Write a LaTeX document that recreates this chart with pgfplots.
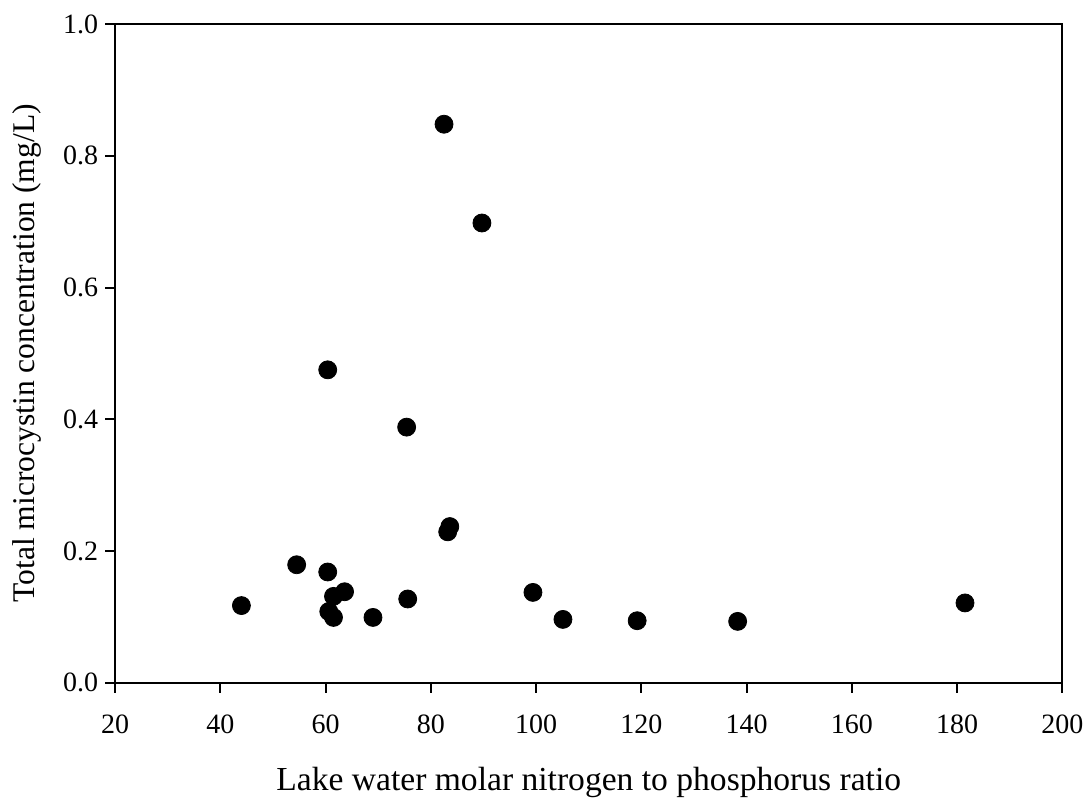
\documentclass[border=0pt]{standalone}
\usepackage{fontspec}
\setmainfont{Liberation Serif}
\usepackage{pgfplots}
\pgfplotsset{compat=1.18}
\begin{document}
\begin{tikzpicture}
\begin{axis}[
  width=474pt, height=329.5pt, scale only axis,
  xmin=20, xmax=200, ymin=0, ymax=1,
  xtick={20,40,60,80,100,120,140,160,180,200},
  ytick={0,0.2,0.4,0.6,0.8,1.0},
  xtick pos=bottom, ytick pos=left,
  tick align=outside,
  major tick length=5pt,
  axis line style={line width=1pt},
  tick style={line width=1pt, black},
  /pgf/number format/assume math mode=true,
  yticklabel style={/pgf/number format/.cd, fixed, fixed zerofill, precision=1},
  xticklabel style={yshift=-7.5pt},
  ticklabel style={font=\fontsize{14}{16}\selectfont},
  xlabel={Lake water molar nitrogen to phosphorus ratio},
  ylabel={Total microcystin concentration (mg/L)},
  xlabel style={font=\fontsize{16.8}{19}\selectfont, yshift=-10pt},
  ylabel style={font=\fontsize{15.8}{18}\selectfont, yshift=4pt},
]
\addplot[only marks, mark=*, mark size=4.5pt, black] table {
x y
44.0 0.117
54.5 0.179
60.4 0.168
61.5 0.131
63.6 0.138
60.6 0.108
61.5 0.099
69.0 0.099
75.6 0.127
83.6 0.237
83.2 0.229
99.4 0.137
105.1 0.096
119.2 0.094
138.3 0.093
181.5 0.121
82.5 0.848
89.7 0.698
60.4 0.475
75.4 0.388
};
\end{axis}
\path (current bounding box.north west) ++(-3pt,4pt);
\end{tikzpicture}
\end{document}
